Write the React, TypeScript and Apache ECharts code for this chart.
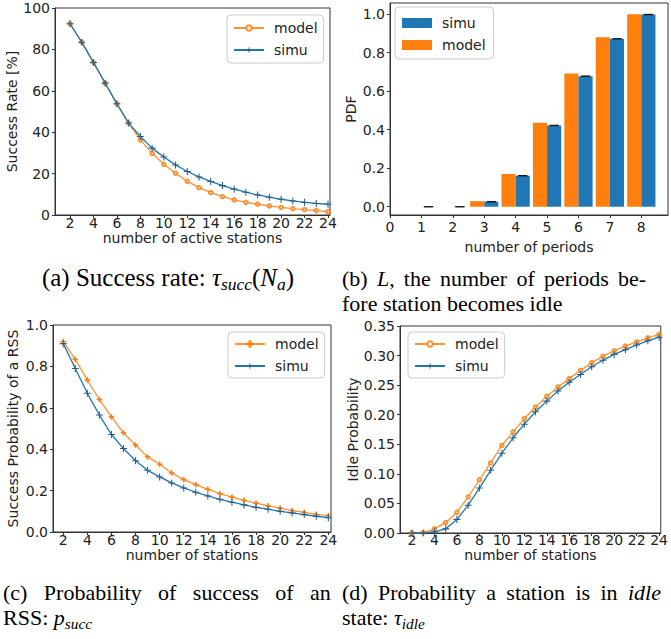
import React, { useEffect, useRef } from 'react';
import * as echarts from 'echarts';

// ---------- data ----------
const stations = [2, 3, 4, 5, 6, 7, 8, 9, 10, 11, 12, 13, 14, 15, 16, 17, 18, 19, 20, 21, 22, 23, 24];
const stationTicks = [2, 4, 6, 8, 10, 12, 14, 16, 18, 20, 22, 24];

// (a) success rate [%]
const successModel = [92.4, 83.5, 73.7, 63.7, 53.7, 44.4, 36.3, 29.8, 24.5, 20.2, 16.3, 13.2, 10.8, 8.9, 7.3, 6.1, 5.2, 4.4, 3.7, 3.1, 2.6, 2.1, 1.6];
const successSimu = [92.4, 83.5, 73.7, 63.7, 53.7, 44.4, 37.9, 32.3, 28.0, 24.2, 21.0, 18.4, 16.2, 14.2, 12.5, 11.0, 9.7, 8.6, 7.6, 6.8, 6.1, 5.6, 5.2];
const yTicksA = [0, 20, 40, 60, 80, 100];

// (b) number of periods
const periods = [1, 2, 3, 4, 5, 6, 7, 8];
const periodTicks = [0, 1, 2, 3, 4, 5, 6, 7, 8];
const pdfSimu = [0.0, 0.0, 0.026, 0.161, 0.422, 0.678, 0.872, 0.998];
const pdfModel = [0.0, 0.0, 0.029, 0.17, 0.436, 0.692, 0.88, 1.0];
const yTicksB = [0, 0.2, 0.4, 0.6, 0.8, 1.0];

// (c) success probability of a RSS
const rssModel = [0.92, 0.834, 0.734, 0.64, 0.556, 0.479, 0.42, 0.363, 0.327, 0.285, 0.253, 0.229, 0.206, 0.185, 0.168, 0.153, 0.139, 0.126, 0.115, 0.103, 0.095, 0.085, 0.079];
const rssSimu = [0.91, 0.79, 0.67, 0.565, 0.471, 0.403, 0.344, 0.298, 0.266, 0.237, 0.213, 0.192, 0.174, 0.158, 0.144, 0.131, 0.119, 0.11, 0.1, 0.092, 0.084, 0.076, 0.069];
const yTicksC = [0, 0.2, 0.4, 0.6, 0.8, 1.0];

// (d) idle probability
const idleModel = [0.0, 0.0005, 0.007, 0.0175, 0.035, 0.061, 0.09, 0.1185, 0.148, 0.171, 0.1935, 0.213, 0.231, 0.247, 0.261, 0.275, 0.288, 0.299, 0.308, 0.316, 0.323, 0.33, 0.336];
const idleSimu = [0.0, 0.0, 0.002, 0.007, 0.023, 0.047, 0.076, 0.106, 0.135, 0.161, 0.184, 0.205, 0.223, 0.24, 0.255, 0.268, 0.281, 0.292, 0.302, 0.31, 0.318, 0.325, 0.331];
const yTicksD = [0, 0.05, 0.1, 0.15, 0.2, 0.25, 0.3, 0.35];

// ---------- styles ----------
const FONT = '"DejaVu Sans", sans-serif';
const SERIF = '"Liberation Serif", "Times New Roman", serif';
const BLUE = '#1f77b4';
const ORANGE = '#ff7f0e';
const AXIS = '#333333';
const TEXT = '#222222';
const PLUS = 'path://M0,3.4H8V4.6H0Z M3.4,0H4.6V8H3.4Z';
const BAR_W = 0.45;

type Piece = { t: string; s: number; it?: boolean; dy?: number };

function xAx(grid: number, min: number, max: number, ticks: number[], margin: number, name: string, gap: number) {
  return {
    type: 'value', gridIndex: grid, min, max,
    axisLine: { show: true, onZero: false, lineStyle: { color: AXIS, width: 1 } },
    axisTick: { show: true, inside: false, length: 3, customValues: ticks, lineStyle: { color: AXIS } },
    axisLabel: { customValues: ticks, margin, fontSize: 14, fontFamily: FONT, color: TEXT, formatter: (v: number) => String(v) },
    splitLine: { show: false },
    name, nameLocation: 'middle', nameGap: gap,
    nameTextStyle: { fontSize: 14, fontFamily: FONT, color: TEXT },
  };
}
function yAx(grid: number, min: number, max: number, ticks: number[], dec: number, name: string, gap: number) {
  return {
    type: 'value', gridIndex: grid, min, max,
    axisLine: { show: true, onZero: false, lineStyle: { color: AXIS, width: 1 } },
    axisTick: { show: true, inside: false, length: 3, customValues: ticks, lineStyle: { color: AXIS } },
    axisLabel: { customValues: ticks, margin: 5, fontSize: 14, fontFamily: FONT, color: TEXT, formatter: (v: number) => v.toFixed(dec) },
    splitLine: { show: false },
    name, nameLocation: 'middle', nameGap: gap, nameRotate: 90,
    nameTextStyle: { fontSize: 14, fontFamily: FONT, color: TEXT },
  };
}

function modelLine(name: string, idx: number, vals: number[], symbol: string, size: any) {
  return {
    type: 'line', name, xAxisIndex: idx, yAxisIndex: idx,
    data: stations.map((x, i) => [x, vals[i]]),
    symbol, symbolSize: size, showSymbol: true,
    lineStyle: { color: ORANGE, width: 1.3, opacity: 0.85 },
    itemStyle: { color: ORANGE, borderColor: ORANGE, borderWidth: 1, opacity: 0.85 },
    z: 2,
  };
}
function simuLine(name: string, idx: number, vals: number[]) {
  return {
    type: 'line', name, xAxisIndex: idx, yAxisIndex: idx,
    data: stations.map((x, i) => [x, vals[i]]),
    symbol: PLUS, symbolSize: [7, 7], showSymbol: true,
    lineStyle: { color: BLUE, width: 1.3 },
    itemStyle: { color: '#2a5d85' },
    z: 3,
  };
}

const legendBase = {
  orient: 'vertical', backgroundColor: 'rgba(255,255,255,0.85)', borderColor: '#cccccc', borderWidth: 1, borderRadius: 4,
  itemWidth: 30, itemHeight: 7, itemGap: 8,
  textStyle: { fontSize: 14, fontFamily: FONT, color: TEXT, padding: [0, 0, 0, 5] },
  formatter: (n: string) => n.split('_')[0],
  selectedMode: false,
};

// ---------- captions ----------
const F = 22;
const FA = 25;
const capA: Piece[] = [
  { t: '(a) Success rate: ', s: FA }, { t: 'τ', s: FA, it: true }, { t: 'succ', s: FA * 0.7, it: true, dy: 4 },
  { t: '(', s: FA }, { t: 'N', s: FA, it: true }, { t: 'a', s: FA * 0.7, it: true, dy: 4 }, { t: ')', s: FA },
];
const capB1: Piece[][] = [
  [{ t: '(b)', s: F }], [{ t: 'L', s: F, it: true }, { t: ',', s: F }], [{ t: 'the', s: F }], [{ t: 'number', s: F }],
  [{ t: 'of', s: F }], [{ t: 'periods', s: F }], [{ t: 'be-', s: F }],
];
const capB2: Piece[] = [{ t: 'fore station becomes idle', s: F }];
const capC1: Piece[][] = [
  [{ t: '(c)', s: F }], [{ t: 'Probability', s: F }], [{ t: 'of', s: F }], [{ t: 'success', s: F }], [{ t: 'of', s: F }], [{ t: 'an', s: F }],
];
const capC2: Piece[] = [{ t: 'RSS: ', s: F }, { t: 'p', s: F, it: true }, { t: 'succ', s: F * 0.7, it: true, dy: 4 }];
const capD1: Piece[][] = [
  [{ t: '(d)', s: F }], [{ t: 'Probability', s: F }], [{ t: 'a', s: F }], [{ t: 'station', s: F }],
  [{ t: 'is', s: F }], [{ t: 'in', s: F }], [{ t: 'idle', s: F, it: true }],
];
const capD2: Piece[] = [{ t: 'state: ', s: F }, { t: 'τ', s: F, it: true }, { t: 'idle', s: F * 0.7, it: true, dy: 4 }];

function buildCaptions() {
  const ctx = document.createElement('canvas').getContext('2d')!;
  const w = (p: Piece) => { ctx.font = `${p.it ? 'italic ' : ''}${p.s}px ${SERIF}`; return ctx.measureText(p.t).width; };
  const out: any[] = [];
  const place = (pieces: Piece[], x: number, base: number) => {
    let cx = x;
    for (const p of pieces) {
      out.push({
        type: 'text', x: cx, y: base + (p.dy || 0) - 0.34 * p.s,
        style: {
          text: p.t, fontSize: p.s, fontFamily: SERIF, fontStyle: p.it ? 'italic' : 'normal', fill: '#000',
          align: 'left', verticalAlign: 'middle', textAlign: 'left', textVerticalAlign: 'middle',
        },
      });
      cx += w(p);
    }
    return cx;
  };
  const width = (pieces: Piece[]) => pieces.reduce((a, p) => a + w(p), 0);
  // justify words so that the first starts at x0 and the last starts at xLast
  const justify = (words: Piece[][], x0: number, xLast: number, base: number) => {
    const ws = words.map(width);
    const inner = ws.slice(0, -1).reduce((a, b) => a + b, 0);
    const gap = (xLast - x0 - inner) / (words.length - 1);
    let cx = x0;
    words.forEach((wd, i) => { place(wd, cx, base); cx += ws[i] + gap; });
  };
  place(capA, 168 - width(capA) / 2, 286);
  justify(capB1, 342, 618, 286);
  place(capB2, 342, 311);
  justify(capC1, 3, 310, 600);
  place(capC2, 3, 625);
  justify(capD1, 342, 628, 600);
  place(capD2, 342, 625);
  return out;
}

export default function App() {
  const ref = useRef<HTMLDivElement>(null);
  useEffect(() => {
    if (!ref.current) return;
    const chart = echarts.init(ref.current, undefined, { renderer: 'svg' });
    const gridBase = { show: true, borderColor: AXIS, borderWidth: 1, backgroundColor: 'transparent', containLabel: false };
    const option: any = {
      animation: false,
      backgroundColor: '#ffffff',
      grid: [
        { ...gridBase, left: 55, top: 8, width: 275, height: 207 },
        { ...gridBase, left: 390, top: 3, width: 278, height: 212 },
        { ...gridBase, left: 53, top: 325, width: 278, height: 207 },
        { ...gridBase, left: 400, top: 326, width: 267, height: 207 },
      ],
      xAxis: [
        xAx(0, 0.72, 24.17, stationTicks, 1, 'number of active stations', 13),
        xAx(1, 0, 8.85, periodTicks, 5, 'number of periods', 25),
        xAx(2, 1.15, 24.22, stationTicks, 1, 'number of stations', 11),
        xAx(3, 0.93, 24.15, stationTicks, 0, 'number of stations', 13),
      ],
      yAxis: [
        yAx(0, 0, 100, yTicksA, 0, 'Success Rate [%]', 33),
        yAx(1, -0.043, 1.058, yTicksB, 1, 'PDF', 32),
        yAx(2, 0, 1, yTicksC, 1, 'Success Probability of a RSS', 33),
        yAx(3, 0, 0.35, yTicksD, 2, 'Idle Probability', 40),
      ],
      legend: [
        { ...legendBase, data: ['model_a', 'simu_a'], left: 227, top: 15, padding: [6, 6, 6, 6] },
        {
          ...legendBase, left: 395, top: 7, padding: [9, 8, 7, 7], itemHeight: 10,
          data: [
            { name: 'simu_b', icon: 'rect', itemStyle: { color: BLUE } },
            { name: 'model_b', icon: 'rect', itemStyle: { color: ORANGE } },
          ],
        },
        { ...legendBase, data: ['model_c', 'simu_c'], left: 228, top: 332, padding: [5, 6, 5, 6] },
        { ...legendBase, data: ['model_d', 'simu_d'], left: 408, top: 332, padding: [5, 6, 5, 6] },
      ],
      series: [
        modelLine('model_a', 0, successModel, 'emptyCircle', 3.5),
        simuLine('simu_a', 0, successSimu),
        {
          type: 'custom', name: 'model_b', xAxisIndex: 1, yAxisIndex: 1,
          data: periods.map((p, i) => [p, pdfModel[i]]), encode: { x: 0, y: 1 },
          itemStyle: { color: ORANGE },
          renderItem: (_p: any, api: any) => {
            const x = api.value(0), y = api.value(1);
            const a = api.coord([x - BAR_W, 0]);
            const b = api.coord([x, y]);
            return { type: 'rect', shape: { x: a[0], y: b[1], width: b[0] - a[0], height: a[1] - b[1] }, style: { fill: ORANGE } };
          },
        },
        {
          type: 'custom', name: 'simu_b', xAxisIndex: 1, yAxisIndex: 1,
          data: periods.map((p, i) => [p, pdfSimu[i]]), encode: { x: 0, y: 1 },
          itemStyle: { color: BLUE },
          renderItem: (_p: any, api: any) => {
            const x = api.value(0), y = api.value(1);
            const a = api.coord([x, 0]);
            const b = api.coord([x + BAR_W, y]);
            const c0 = api.coord([x + BAR_W / 2 - 0.15, y]);
            const c1 = api.coord([x + BAR_W / 2 + 0.15, y]);
            return {
              type: 'group',
              children: [
                { type: 'rect', shape: { x: a[0], y: b[1], width: b[0] - a[0], height: a[1] - b[1] }, style: { fill: BLUE } },
                { type: 'line', shape: { x1: c0[0], y1: c0[1], x2: c1[0], y2: c1[1] }, style: { stroke: '#1a1a1a', lineWidth: 1.5 } },
              ],
            };
          },
        },
        modelLine('model_c', 2, rssModel, PLUS, [5, 5]),
        simuLine('simu_c', 2, rssSimu),
        modelLine('model_d', 3, idleModel, 'emptyCircle', 3.5),
        simuLine('simu_d', 3, idleSimu),
      ],
      graphic: { elements: buildCaptions() },
    };
    chart.setOption(option);
    return () => chart.dispose();
  }, []);
  return (
    <div
      ref={ref}
      style={{ position: 'absolute', left: 0, top: 0, width: '671px', height: '639px', background: '#fff' }}
    />
  );
}
